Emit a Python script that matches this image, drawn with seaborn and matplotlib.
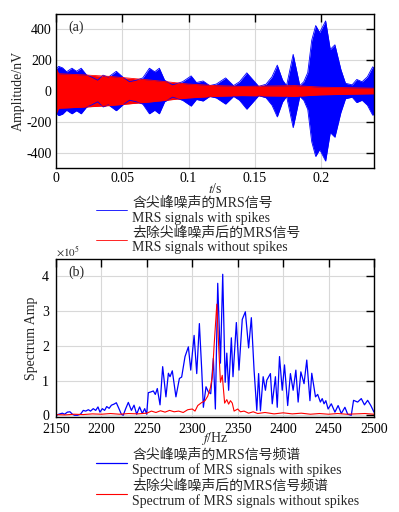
import numpy as np
import pandas as pd
import matplotlib
matplotlib.use("Agg")
import matplotlib.pyplot as plt
import seaborn as sns

# 时域信号包络
t_blue = [0.000, 0.002, 0.005, 0.008, 0.012, 0.0155, 0.019, 0.023, 0.027, 0.0315,
          0.0355, 0.0395, 0.0455, 0.0505, 0.0555, 0.0605, 0.0655, 0.0705, 0.0745, 0.078,
          0.082, 0.088, 0.0955, 0.102, 0.106, 0.111, 0.116, 0.121, 0.128, 0.134,
          0.1385, 0.144, 0.153, 0.1585, 0.163, 0.167, 0.171, 0.174, 0.179, 0.184,
          0.187, 0.190, 0.193, 0.196, 0.199, 0.2035, 0.207, 0.2105, 0.215, 0.2185,
          0.2235, 0.227, 0.231, 0.235, 0.239, 0.240]
env_blue = [140, 160, 150, 125, 148, 128, 148, 105, 90, 70,
            103, 90, 128, 90, 60, 70, 85, 148, 125, 148,
            70, 40, 60, 98, 55, 65, 35, 45, 85, 35,
            60, 118, 30, 44, 92, 168, 71, 35, 238, 35,
            60, 120, 330, 425, 380, 455, 270, 300, 140, 50,
            40, 75, 60, 92, 157, 150]

t_red = [0.000, 0.002, 0.02, 0.04, 0.07, 0.10, 0.12, 0.14, 0.17, 0.18, 0.20, 0.24]
env_red = [150, 112, 105, 95, 72, 45, 35, 30, 33, 35, 25, 18]

# 频谱 (×10^5)
f_blue = [2150.7, 2153, 2157, 2159.5, 2162.5, 2165.4, 2168, 2170.5, 2173.5, 2177,
          2180, 2182.7, 2185.6, 2188, 2191, 2193.7, 2196.2, 2198.4, 2201, 2203.5,
          2205.8, 2208.5, 2211, 2213.8, 2216.4, 2219.3, 2221.9, 2224, 2226.7, 2229.6,
          2233, 2235.9, 2238.8, 2242, 2245, 2247.6, 2249.8, 2251.6, 2254.2, 2257.1,
          2259.3, 2261.5, 2264.5, 2267.4, 2271, 2273.7, 2275.5, 2278, 2282, 2285.8,
          2288.3, 2292, 2295.7, 2298.3, 2302, 2304.9, 2307.8, 2310.4, 2312.2, 2315.1,
          2317.7, 2320.3, 2323.2, 2325.4, 2328, 2331, 2333.5, 2336.2, 2338, 2340,
          2343, 2344.8, 2348.5, 2351.4, 2355, 2358.4, 2362, 2365, 2368, 2371,
          2373, 2375, 2378, 2380.5, 2382, 2386, 2388, 2391.5, 2393.5, 2396,
          2399, 2401.5, 2405, 2408, 2411, 2414, 2416.5, 2419.5, 2423, 2426,
          2429.5, 2431.5, 2435.6, 2438, 2441, 2443, 2445, 2447, 2449.5, 2453,
          2457, 2460.5, 2464, 2468, 2471, 2475, 2477.5, 2482, 2486, 2489.5,
          2493, 2496.5, 2500]
amp_blue = [0.0, 0.03, 0.06, 0.03, 0.09, 0.10, 0.03, 0.0, 0.0, 0.03,
            0.14, 0.12, 0.16, 0.12, 0.19, 0.14, 0.24, 0.09, 0.19, 0.14,
            0.25, 0.20, 0.29, 0.32, 0.36, 0.19, 0.03, 0.0, 0.19, 0.37,
            0.14, 0.29, 0.03, 0.24, 0.05, 0.19, 0.03, 0.65, 0.67, 0.70,
            0.60, 0.77, 0.30, 1.40, 0.53, 1.21, 1.11, 1.28, 0.53, 1.06,
            1.10, 1.69, 1.97, 1.30, 2.30, 1.20, 2.64, 1.30, 0.23, 0.82,
            0.67, 0.62, 1.64, 0.18, 3.80, 1.50, 4.06, 0.95, 1.79, 0.72,
            2.23, 1.11, 2.67, 1.30, 2.76, 2.98, 1.94, 2.81, 1.30, 0.14,
            1.20, 0.13, 1.11, 0.72, 1.01, 1.20, 0.33, 1.11, 0.23, 1.69,
            0.72, 1.45, 0.28, 1.20, 0.72, 1.30, 0.38, 1.25, 0.91, 1.59,
            0.42, 1.21, 0.53, 0.60, 0.38, 0.48, 0.33, 0.42, 0.18, 0.33,
            0.09, 0.28, 0.05, 0.23, 0.03, 0.0, 0.43, 0.38, 0.48, 0.30,
            0.43, 0.28, 0.09]

f_red = [2150, 2160, 2170, 2180, 2190, 2200, 2210, 2220, 2230, 2240,
         2250, 2255, 2260, 2265, 2270, 2275, 2280, 2285, 2290, 2295,
         2300, 2303, 2306, 2310, 2314, 2317, 2320, 2322, 2324, 2327,
         2329, 2331, 2333, 2335.6, 2338, 2340, 2342, 2344, 2346, 2350,
         2353, 2357, 2362, 2367, 2372, 2380, 2390, 2400, 2410, 2420,
         2430, 2440, 2450, 2460, 2470, 2480, 2490, 2500]
amp_red = [0.02, 0.01, 0.03, 0.02, 0.04, 0.03, 0.05, 0.03, 0.05, 0.04,
           0.06, 0.12, 0.08, 0.13, 0.09, 0.14, 0.10, 0.12, 0.08, 0.16,
           0.18, 0.12, 0.28, 0.36, 0.42, 0.55, 0.80, 1.10, 2.00, 3.20,
           2.00, 0.95, 1.15, 0.35, 0.45, 0.32, 0.42, 0.35, 0.12, 0.18,
           0.10, 0.12, 0.06, 0.10, 0.05, 0.08, 0.04, 0.07, 0.04, 0.06,
           0.03, 0.05, 0.03, 0.05, 0.03, 0.04, 0.05, 0.03]

lab_a1 = "含尖峰噪声的MRS信号\nMRS signals with spikes"
lab_a2 = "去除尖峰噪声后的MRS信号\nMRS signals without spikes"
lab_b1 = "含尖峰噪声的MRS信号频谱\nSpectrum of MRS signals with spikes"
lab_b2 = "去除尖峰噪声后的MRS信号频谱\nSpectrum of MRS signals without spikes"

sns.set_style("whitegrid")
plt.rcParams["font.family"] = ["Liberation Serif", "Noto Sans CJK SC"]
plt.rcParams["mathtext.fontset"] = "stix"
plt.rcParams["axes.unicode_minus"] = False
plt.rcParams["font.size"] = 10

fig = plt.figure(figsize=(3.99, 5.12), dpi=100)
ax1 = fig.add_axes([56 / 399, 1 - 168 / 512, 318 / 399, 154 / 512])
ax2 = fig.add_axes([56 / 399, 1 - 417 / 512, 318 / 399, 158 / 512])

blue = "#0000FF"
red = "#FF0000"

# (a) 时域
tb = np.array(t_blue)
eb = np.array(env_blue)
tr = np.array(t_red)
er = np.array(env_red)
ax1.fill_between(tb, -eb, eb, color=blue, lw=0)
sns.lineplot(x=tb, y=eb, color=blue, lw=0.6, ax=ax1, label=lab_a1)
sns.lineplot(x=tb, y=-eb, color=blue, lw=0.6, ax=ax1)
ax1.fill_between(tr, -er, er, color=red, lw=0)
sns.lineplot(x=tr, y=er, color=red, lw=0.6, ax=ax1, label=lab_a2)
sns.lineplot(x=tr, y=-er, color=red, lw=0.6, ax=ax1)
ax1.set_xlim(0, 0.24)
ax1.set_ylim(-500, 500)
ax1.set_xticks([0, 0.05, 0.1, 0.15, 0.2])
ax1.set_xticklabels(["0", "0.05", "0.1", "0.15", "0.2"])
ax1.set_yticks([-400, -200, 0, 200, 400])
ax1.set_xlabel("$t$/s", labelpad=-2)
ax1.set_ylabel("Amplitude/nV", labelpad=1)
ax1.text(0.04, 0.96, "(a)", transform=ax1.transAxes, ha="left", va="top")

# (b) 频谱
df_b = pd.DataFrame({"f": f_blue, "amp": amp_blue})
df_r = pd.DataFrame({"f": f_red, "amp": amp_red})
sns.lineplot(data=df_b, x="f", y="amp", color=blue, lw=0.9, ax=ax2, label=lab_b1)
sns.lineplot(data=df_r, x="f", y="amp", color=red, lw=0.8, ax=ax2, label=lab_b2)
ax2.set_xlim(2150, 2500)
ax2.set_ylim(-0.05, 4.5)
ax2.set_xticks(range(2150, 2501, 50))
ax2.set_yticks([0, 1, 2, 3, 4])
ax2.set_xlabel("$f$/Hz", labelpad=-4)
ax2.set_ylabel("Spectrum Amp", labelpad=3)
ax2.text(0.04, 0.96, "(b)", transform=ax2.transAxes, ha="left", va="top")
ax2.text(0.0, 1.0, r"$\times10^5$", transform=ax2.transAxes, ha="left", va="bottom", fontsize=8)

for ax in (ax1, ax2):
    ax.grid(True, color="#d8d8d8", lw=0.8)
    for s in ax.spines.values():
        s.set_color("black")
        s.set_linewidth(1.0)
    ax.tick_params(direction="in", length=6, width=1, top=True, right=True,
                   labelsize=10, pad=3, colors="black")
    ax.get_legend().remove()
ax2.tick_params(axis="y", pad=5)
ax2.tick_params(axis="x", pad=4)

h1, l1 = ax1.get_legend_handles_labels()
fig.legend(h1, l1, loc="upper left", bbox_to_anchor=(96 / 399, 1 - 196 / 512),
           frameon=False, borderpad=0, borderaxespad=0, handlelength=2.2,
           handletextpad=0.4, labelspacing=0.1, fontsize=10)
h2, l2 = ax2.get_legend_handles_labels()
fig.legend(h2, l2, loc="upper left", bbox_to_anchor=(96 / 399, 1 - 448 / 512),
           frameon=False, borderpad=0, borderaxespad=0, handlelength=2.2,
           handletextpad=0.4, labelspacing=0.1, fontsize=10)

fig.savefig("out.png", dpi=100)
